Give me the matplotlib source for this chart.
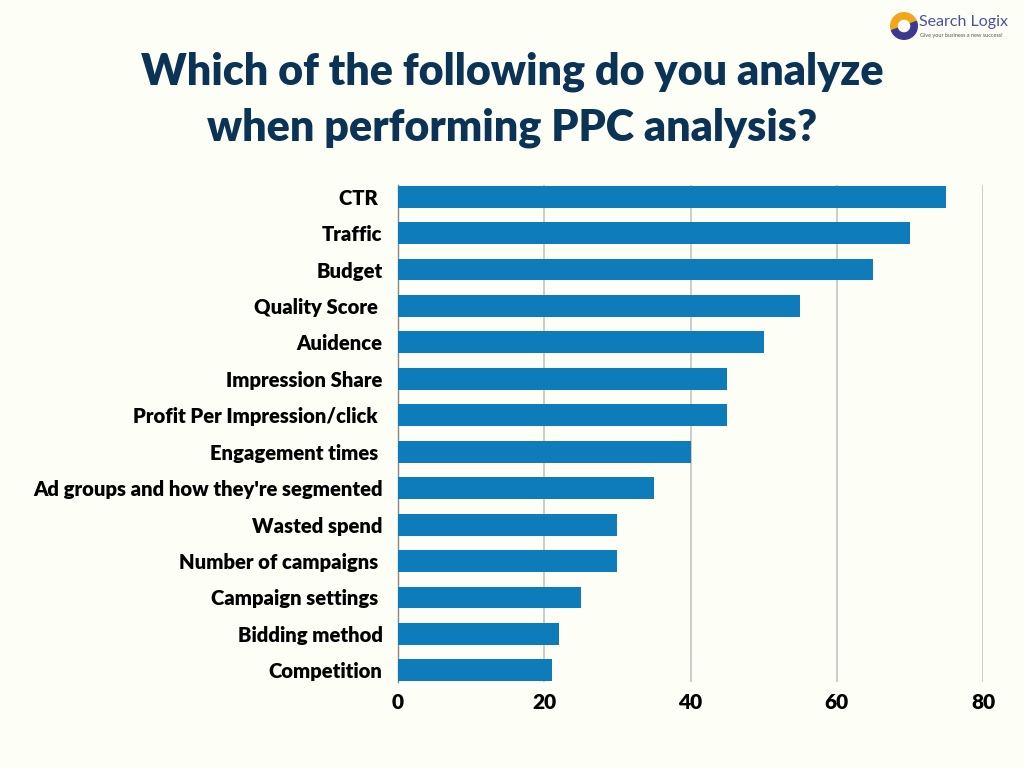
import matplotlib.pyplot as plt
import numpy as np
from matplotlib.patches import Wedge

categories = ["CTR ", "Traffic", "Budget", "Quality Score ", "Auidence",
              "Impression Share", "Profit Per Impression/click ",
              "Engagement times ", "Ad groups and how they're segmented",
              "Wasted spend", "Number of campaigns ", "Campaign settings ",
              "Bidding method", "Competition"]
values = [75, 70, 65, 55, 50, 45, 45, 40, 35, 30, 30, 25, 22, 21]
xticks = [0, 20, 40, 60, 80]

bg = "#FDFEF6"
bar_color = "#0E7BBB"
title_color = "#0B3356"

plt.rcParams['font.family'] = ['Lato', 'DejaVu Sans']

fig = plt.figure(figsize=(10.24, 7.68), dpi=100, facecolor=bg)
ax = fig.add_axes([398 / 1024, 1 - 682 / 768, 585 / 1024, 497 / 768])
ax.set_facecolor(bg)

y = np.arange(len(categories))[::-1]
ax.barh(y, values, height=0.6, color=bar_color, zorder=3)

ax.set_xlim(0, 80)
ax.set_ylim(-0.32, len(categories) - 0.68)
ax.set_xticks(xticks)
ax.set_xticklabels([str(t) for t in xticks], fontsize=15, fontweight="heavy")
ax.set_yticks(y)
ax.set_yticklabels(categories, fontsize=14.6, fontweight="heavy")
ax.tick_params(axis="both", length=0, pad=8)
ax.tick_params(axis="y", pad=11)

ax.grid(axis="x", color="#C8C8C8", linewidth=1.3, zorder=0)
for s in ["top", "right", "bottom"]:
    ax.spines[s].set_visible(False)
ax.spines["left"].set_color("#888888")
ax.spines["left"].set_linewidth(1)

fig.text(0.5, 1 - 72 / 768, "Which of the following do you analyze",
         ha="center", va="center", fontsize=31, fontweight="heavy", color=title_color)
fig.text(0.5, 1 - 128 / 768, "when performing PPC analysis?",
         ha="center", va="center", fontsize=31, fontweight="heavy", color=title_color)

# logo
lax = fig.add_axes([890 / 1024, 1 - 40 / 768, 28 / 1024, 28 / 768])
lax.set_xlim(-1, 1)
lax.set_ylim(-1, 1)
lax.set_aspect("equal")
lax.axis("off")
lax.add_patch(Wedge((0, 0), 0.95, 20, 200, width=0.45, color="#F2A71B"))
lax.add_patch(Wedge((0, 0), 0.95, 200, 380, width=0.45, color="#3B3A8F"))
fig.text(919 / 1024, 1 - 22 / 768, "Search Logix", fontsize=11.5, color="#4A4FA3", va="center")
fig.text(920 / 1024, 1 - 35 / 768, "Give your business a new success!", fontsize=4, color="#555555", va="center")

fig.savefig("out.png", dpi=100, facecolor=bg)
